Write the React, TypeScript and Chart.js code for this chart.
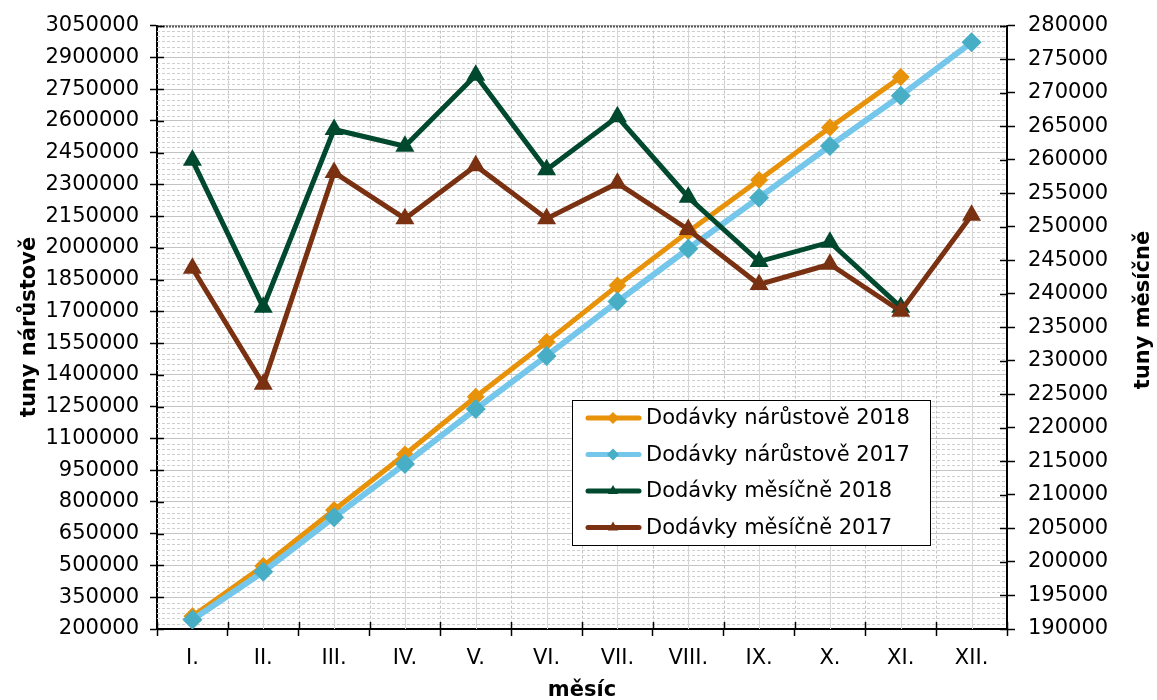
import React, { useEffect, useRef } from 'react';
import { Chart, registerables } from 'chart.js';

Chart.register(...registerables);

const months = ['I.', 'II.', 'III.', 'IV.', 'V.', 'VI.', 'VII.', 'VIII.', 'IX.', 'X.', 'XI.', 'XII.'];

const cumulative2018 = [259900, 497900, 762400, 1024400, 1297000, 1555500, 1821900, 2076300, 2321100, 2568800, 2806800, null];
const cumulative2017 = [243800, 470300, 728400, 979600, 1238700, 1489900, 1746400, 1996000, 2237400, 2481800, 2719200, 2970900];
const monthly2018 = [259900, 238000, 264500, 262000, 272600, 258500, 266400, 254400, 244800, 247700, 238000, null];
const monthly2017 = [243800, 226500, 258100, 251200, 259100, 251200, 256500, 249600, 241400, 244400, 237400, 251700];

const seriesNames = ['Dodávky nárůstově 2018', 'Dodávky nárůstově 2017', 'Dodávky měsíčně 2018', 'Dodávky měsíčně 2017'];

const leftMin = 200000;
const leftMax = 3050000;
const leftStep = 150000;
const leftMinorStep = 25000;
const rightMin = 190000;
const rightMax = 280000;
const rightStep = 5000;

const leftTitle = 'tuny nárůstově';
const rightTitle = 'tuny měsíčně';
const xTitle = 'měsíc';

const FONT = '"DejaVu Sans", Verdana, sans-serif';

const COLORS = {
  orange: '#E8920A',
  blueLine: '#74C7EA',
  blueMarker: '#48AEC6',
  green: '#00492E',
  brown: '#7A3112',
};

const INNER_TICK = 7;

function pathMarker(ctx: CanvasRenderingContext2D, style: string, x: number, y: number, r: number) {
  ctx.beginPath();
  if (style === 'rectRot') {
    ctx.moveTo(x, y - r);
    ctx.lineTo(x + r, y);
    ctx.lineTo(x, y + r);
    ctx.lineTo(x - r, y);
  } else {
    const h = r * Math.sqrt(3) / 2;
    ctx.moveTo(x, y - r);
    ctx.lineTo(x + h, y + r / 2);
    ctx.lineTo(x - h, y + r / 2);
  }
  ctx.closePath();
  ctx.fill();
}

const gridPlugin = {
  id: 'customGrid',
  beforeDatasetsDraw(chart: any) {
    const { ctx, chartArea } = chart;
    const { left, right, top, bottom } = chartArea;
    const yL = chart.scales.y;
    const yR = chart.scales.y1;
    const xS = chart.scales.x;
    ctx.save();
    ctx.lineWidth = 1;
    ctx.strokeStyle = '#cfcfcf';
    ctx.setLineDash([3, 2]);
    for (let v = leftMin + leftMinorStep; v < leftMax; v += leftMinorStep) {
      if ((v - leftMin) % leftStep === 0) continue;
      const py = Math.round(yL.getPixelForValue(v)) + 0.5;
      ctx.beginPath();
      ctx.moveTo(left, py);
      ctx.lineTo(right, py);
      ctx.stroke();
    }
    ctx.strokeStyle = '#c4c4c4';
    const n = months.length;
    const w = (right - left) / n;
    for (let i = 1; i < n; i++) {
      const px = Math.round(left + i * w) + 0.5;
      ctx.beginPath();
      ctx.moveTo(px, top);
      ctx.lineTo(px, bottom);
      ctx.stroke();
    }
    ctx.setLineDash([]);
    ctx.strokeStyle = '#d6d6d6';
    for (let i = 0; i < n; i++) {
      const px = Math.round(xS.getPixelForValue(i)) + 0.5;
      ctx.beginPath();
      ctx.moveTo(px, top);
      ctx.lineTo(px, bottom);
      ctx.stroke();
    }
    ctx.strokeStyle = '#555';
    ctx.lineWidth = 2;
    ctx.setLineDash([2, 1]);
    ctx.beginPath();
    ctx.moveTo(left, top + 1);
    ctx.lineTo(right, top + 1);
    ctx.stroke();
    // inner parts of crossing tick marks
    ctx.setLineDash([]);
    ctx.strokeStyle = '#000';
    ctx.lineWidth = 1.5;
    for (let v = leftMin; v <= leftMax; v += leftStep) {
      const py = Math.round(yL.getPixelForValue(v)) + 0.5;
      ctx.beginPath();
      ctx.moveTo(left, py);
      ctx.lineTo(left + INNER_TICK, py);
      ctx.stroke();
    }
    for (let v = rightMin; v <= rightMax; v += rightStep) {
      const py = Math.round(yR.getPixelForValue(v)) + 0.5;
      ctx.beginPath();
      ctx.moveTo(right, py);
      ctx.lineTo(right - INNER_TICK, py);
      ctx.stroke();
    }
    for (let i = 0; i <= n; i++) {
      const px = Math.round(left + i * w) + 0.5;
      ctx.beginPath();
      ctx.moveTo(px, bottom);
      ctx.lineTo(px, bottom - INNER_TICK);
      ctx.stroke();
    }
    ctx.restore();
  },
  afterDatasetsDraw(chart: any) {
    const { ctx } = chart;
    ctx.save();
    const bx = 572, by = 400, bw = 358, bh = 145;
    ctx.fillStyle = '#fff';
    ctx.fillRect(bx, by, bw, bh);
    ctx.strokeStyle = '#000';
    ctx.lineWidth = 1;
    ctx.strokeRect(bx + 0.5, by + 0.5, bw, bh);
    const rows = [418, 454.5, 491, 527.5];
    const styles = [
      { line: COLORS.orange, marker: COLORS.orange, pt: 'rectRot', r: 6 },
      { line: COLORS.blueLine, marker: COLORS.blueMarker, pt: 'rectRot', r: 6 },
      { line: COLORS.green, marker: COLORS.green, pt: 'triangle', r: 6 },
      { line: COLORS.brown, marker: COLORS.brown, pt: 'triangle', r: 6 },
    ];
    ctx.font = `21px ${FONT}`;
    ctx.textAlign = 'left';
    ctx.textBaseline = 'middle';
    rows.forEach((yy, i) => {
      const s = styles[i];
      ctx.strokeStyle = s.line;
      ctx.lineWidth = 5;
      ctx.lineCap = 'round';
      ctx.beginPath();
      ctx.moveTo(588, yy);
      ctx.lineTo(639, yy);
      ctx.stroke();
      ctx.fillStyle = s.marker;
      pathMarker(ctx, s.pt, 613, yy, s.r);
      ctx.fillStyle = '#000';
      ctx.fillText(seriesNames[i], 646, yy + 1);
    });
    ctx.restore();
  },
  afterDraw(chart: any) {
    const { ctx } = chart;
    ctx.save();
    ctx.fillStyle = '#000';
    ctx.font = `bold 21px ${FONT}`;
    ctx.textAlign = 'center';
    ctx.textBaseline = 'middle';
    ctx.save();
    ctx.translate(30, 327);
    ctx.rotate(-Math.PI / 2);
    ctx.fillText(leftTitle, 0, 0);
    ctx.restore();
    ctx.save();
    ctx.translate(1144, 310);
    ctx.rotate(-Math.PI / 2);
    ctx.fillText(rightTitle, 0, 0);
    ctx.restore();
    ctx.fillText(xTitle, 582, 691);
    ctx.restore();
  },
};

export default function App() {
  const ref = useRef<HTMLCanvasElement>(null);
  useEffect(() => {
    document.body.style.margin = '0';
    const canvas = ref.current!;
    const tickFont = { family: FONT, size: 21 };
    const plain = (v: any) => String(v);
    const chart = new Chart(canvas, {
      type: 'line',
      data: {
        labels: months,
        datasets: [
          {
            label: seriesNames[0],
            data: cumulative2018,
            yAxisID: 'y',
            borderColor: COLORS.orange,
            backgroundColor: COLORS.orange,
            pointBackgroundColor: COLORS.orange,
            pointBorderColor: COLORS.orange,
            borderWidth: 5,
            pointStyle: 'rectRot',
            pointRadius: 9,
            pointBorderWidth: 0,
            order: 3,
          },
          {
            label: seriesNames[1],
            data: cumulative2017,
            yAxisID: 'y',
            borderColor: COLORS.blueLine,
            backgroundColor: COLORS.blueMarker,
            pointBackgroundColor: COLORS.blueMarker,
            pointBorderColor: COLORS.blueMarker,
            borderWidth: 6,
            pointStyle: 'rectRot',
            pointRadius: 10,
            pointBorderWidth: 0,
            order: 2,
          },
          {
            label: seriesNames[2],
            data: monthly2018,
            yAxisID: 'y1',
            borderColor: COLORS.green,
            backgroundColor: COLORS.green,
            pointBackgroundColor: COLORS.green,
            pointBorderColor: COLORS.green,
            borderWidth: 5,
            pointStyle: 'triangle',
            pointRadius: 11,
            pointBorderWidth: 0,
            order: 1,
          },
          {
            label: seriesNames[3],
            data: monthly2017,
            yAxisID: 'y1',
            borderColor: COLORS.brown,
            backgroundColor: COLORS.brown,
            pointBackgroundColor: COLORS.brown,
            pointBorderColor: COLORS.brown,
            borderWidth: 5,
            pointStyle: 'triangle',
            pointRadius: 11,
            pointBorderWidth: 0,
            order: 0,
          },
        ],
      },
      options: {
        responsive: false,
        animation: false,
        layout: { padding: { top: 25, left: 0, right: 0, bottom: 0 } },
        plugins: { legend: { display: false }, tooltip: { enabled: false }, title: { display: false } },
        elements: { line: { tension: 0 } },
        scales: {
          x: {
            type: 'category',
            offset: true,
            afterFit: (s: any) => { s.height = 71; },
            grid: { display: true, drawOnChartArea: false, offset: true, tickLength: 7, tickColor: '#000', tickWidth: 1.5 },
            border: { color: '#000', width: 2 },
            ticks: { font: tickFont, color: '#000', padding: 10, maxRotation: 0, autoSkip: false },
          },
          y: {
            type: 'linear',
            position: 'left',
            min: leftMin,
            max: leftMax,
            afterFit: (s: any) => { s.width = 157; },
            grid: { color: '#c4c4c4', lineWidth: 1, tickColor: '#000', tickLength: 7, tickWidth: 1.5 },
            border: { color: '#000', width: 2 },
            ticks: { stepSize: leftStep, font: tickFont, color: '#000', padding: 11, autoSkip: false, callback: plain },
          },
          y1: {
            type: 'linear',
            position: 'right',
            min: rightMin,
            max: rightMax,
            afterFit: (s: any) => { s.width = 150; },
            grid: { drawOnChartArea: false, tickColor: '#000', tickLength: 8, tickWidth: 1.5 },
            border: { color: '#000', width: 2 },
            ticks: { stepSize: rightStep, font: tickFont, color: '#000', padding: 13, autoSkip: false, callback: plain },
          },
        },
      },
      plugins: [gridPlugin],
    });
    return () => chart.destroy();
  }, []);
  return (
    <div style={{ width: 1157, height: 700 }}>
      <canvas ref={ref} width={1157} height={700} style={{ display: 'block' }} />
    </div>
  );
}
